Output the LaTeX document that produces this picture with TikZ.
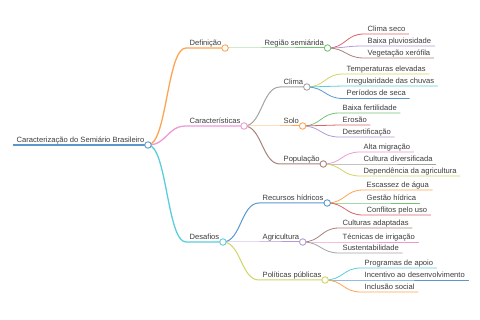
\documentclass[tikz,border=0pt]{standalone}
\usepackage{fontspec}
\setmainfont{Liberation Sans}
\usepackage{tikz}
\usetikzlibrary{calc}

\definecolor{txt}{HTML}{3C3C3C}
\definecolor{cblue}{HTML}{5A98CC}
\definecolor{corange}{HTML}{FFA452}
\definecolor{cgreen}{HTML}{74C474}
\definecolor{cred}{HTML}{DC6468}
\definecolor{cpurple}{HTML}{B39AD6}
\definecolor{cbrown}{HTML}{A8827A}
\definecolor{cpink}{HTML}{EC9AD6}
\definecolor{cgray}{HTML}{A3A3A3}
\definecolor{colive}{HTML}{D3D462}
\definecolor{ccyan}{HTML}{5CCDDB}

% curve from the parent's end to the child, then the line under the child
\newcommand{\twig}[3]{%
  \draw[#1] let \p1=(#2.south east), \p2=(#3.south west) in
    (\p1) .. controls ({(\x1+\x2)/2},\y1) and ({(\x1+\x2)/2},\y2) .. (\p2) -- (#3.south east);}
\newcommand{\knob}[2]{\node[dot, draw=#1] at (#2.south east) {};}

\begin{document}
\begin{tikzpicture}[x=1pt,y=-1pt,
    lbl/.style={anchor=south west, inner xsep=3.5pt, inner ysep=0.8pt, text=txt,
      text height=5.5pt, text depth=1.6pt, font=\fontsize{7.6}{8}\selectfont},
    dot/.style={circle, fill=white, inner sep=0pt, minimum size=6.5pt, line width=0.9pt},
    l1/.style={line width=1.3pt}, l2/.style={line width=1pt}, l3/.style={line width=0.8pt}]
        \useasboundingbox (0,0) rectangle (480,320);

        \node[lbl] (root) at (13,145) {Caracterização do Semiário Brasileiro};

        \node[lbl] (def) at (186,48) {Definição};
        \node[lbl] (car) at (186,126) {Características};
        \node[lbl] (des) at (186,242) {Desafios};

        \node[lbl] (reg) at (261,48) {Região semiárida};
        \node[lbl] (cli) at (280,87) {Clima};
        \node[lbl] (sol) at (280,126) {Solo};
        \node[lbl] (pop) at (280,164) {População};
        \node[lbl] (rec) at (259,203) {Recursos hídricos};
        \node[lbl] (agr) at (259,242) {Agricultura};
        \node[lbl] (pol) at (259,280) {Políticas públicas};

        \node[lbl] (cs) at (364,34) {Clima seco};
        \node[lbl] (bp) at (364,46) {Baixa pluviosidade};
        \node[lbl] (vx) at (364,58) {Vegetação xerófila};
        \node[lbl] (te) at (343,74) {Temperaturas elevadas};
        \node[lbl] (ic) at (343,86) {Irregularidade das chuvas};
        \node[lbl] (ps) at (343,98.5) {Períodos de seca};
        \node[lbl] (bf) at (339,113) {Baixa fertilidade};
        \node[lbl] (er) at (339,125) {Erosão};
        \node[lbl] (ds) at (339,137) {Desertificação};
        \node[lbl] (am) at (360,152) {Alta migração};
        \node[lbl] (cd) at (360,164) {Cultura diversificada};
        \node[lbl] (da) at (360,176) {Dependência da agricultura};
        \node[lbl] (ea) at (363,190) {Escassez de água};
        \node[lbl] (gh) at (363,203) {Gestão hídrica};
        \node[lbl] (cu) at (363,215) {Conflitos pelo uso};
        \node[lbl] (ca) at (339,228) {Culturas adaptadas};
        \node[lbl] (ti) at (339,242) {Técnicas de irrigação};
        \node[lbl] (su) at (339,253) {Sustentabilidade};
        \node[lbl] (pa) at (361,268) {Programas de apoio};
        \node[lbl] (id) at (361,280) {Incentivo ao desenvolvimento};
        \node[lbl] (is) at (361,292) {Inclusão social};

        \draw[cblue, line width=1.6pt] (root.south west) -- (root.south east);
        \twig{corange,l1}{root}{def}
        \twig{cpink,l1}{root}{car}
        \twig{ccyan,l1}{root}{des}

        \twig{cgreen,l2}{def}{reg}
        \twig{cgray,l2}{car}{cli}
        \twig{corange,l2}{car}{sol}
        \twig{cbrown,l2}{car}{pop}
        \twig{cblue,l2}{des}{rec}
        \twig{cpurple,l2}{des}{agr}
        \twig{colive,l2}{des}{pol}

        \twig{cred,l3}{reg}{cs}
        \twig{cpurple,l3}{reg}{bp}
        \twig{cbrown,l3}{reg}{vx}
        \twig{colive,l3}{cli}{te}
        \twig{ccyan,l3}{cli}{ic}
        \twig{cblue,l3}{cli}{ps}
        \twig{cgreen,l3}{sol}{bf}
        \twig{cred,l3}{sol}{er}
        \twig{cpurple,l3}{sol}{ds}
        \twig{cpink,l3}{pop}{am}
        \twig{cgray,l3}{pop}{cd}
        \twig{colive,l3}{pop}{da}
        \twig{corange,l3}{rec}{ea}
        \twig{cgreen,l3}{rec}{gh}
        \twig{cred,l3}{rec}{cu}
        \twig{cbrown,l3}{agr}{ca}
        \twig{cpink,l3}{agr}{ti}
        \twig{cgray,l3}{agr}{su}
        \twig{ccyan,l3}{pol}{pa}
        \twig{cblue,l3}{pol}{id}
        \twig{corange,l3}{pol}{is}

        \knob{cblue}{root}
        \knob{corange}{def} \knob{cpink}{car} \knob{ccyan}{des}
        \knob{cgreen}{reg} \knob{cgray}{cli} \knob{corange}{sol} \knob{cbrown}{pop}
        \knob{cblue}{rec} \knob{cpurple}{agr} \knob{colive}{pol}
\end{tikzpicture}
\end{document}
